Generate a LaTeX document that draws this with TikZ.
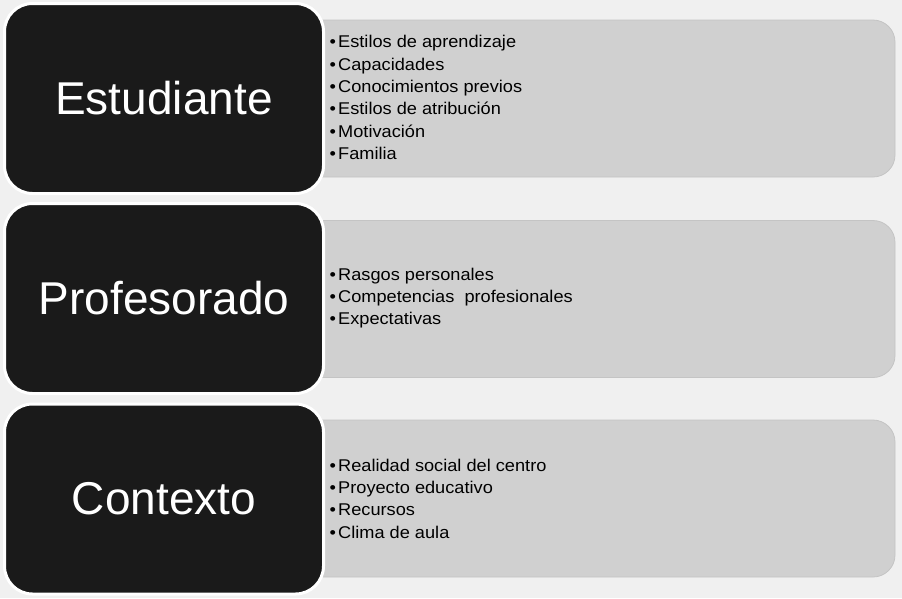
\documentclass[tikz,border=0pt]{standalone}
\usepackage{fontspec}
\setmainfont{Liberation Sans}
\newfontfamily\listfont[FakeStretch=1.07]{Liberation Sans}
\definecolor{bgc}{HTML}{F0F0F0}
\definecolor{grayfill}{HTML}{D0D0D0}
\definecolor{grayline}{HTML}{C4C4C4}
\definecolor{blackfill}{HTML}{1A1A1A}
\newcommand{\itm}[1]{\makebox[8.5pt][l]{•}#1}
\begin{document}
\begin{tikzpicture}[x=1pt,y=-1pt,
  headbox/.style={draw=white,line width=3pt,fill=blackfill,rounded corners=28pt,
    minimum width=319pt,minimum height=190pt,inner sep=0pt,text=white,
    font=\fontsize{46}{50}\selectfont},
  listbox/.style={draw=grayline,line width=0.8pt,fill=grayfill,rounded corners=22pt,
    minimum width=595pt,minimum height=157pt,inner sep=0pt},
  listtext/.style={anchor=west,align=left,inner sep=0pt,text=black,
    font=\listfont\fontsize{17}{22.3}\selectfont}]
\fill[bgc] (0,0) rectangle (902,598);
\useasboundingbox (0,0) rectangle (902,598);
% gray list boxes
\node[listbox] (g1) at (597.5,98.5) {};
\node[listbox] (g2) at (597.5,299) {};
\node[listbox] (g3) at (597.5,498.5) {};
% black heading boxes
\node[headbox] (h1) at (164,98.5) {Estudiante};
\node[headbox] (h2) at (164,298.5) {Profesorado};
\node[headbox] (h3) at (164,499) {Contexto};
% lists
\node[listtext] (t1) at (329.5,97.5) {\itm{Estilos de aprendizaje}\\\itm{Capacidades}\\\itm{Conocimientos previos}\\\itm{Estilos de atribución}\\\itm{Motivación}\\\itm{Familia}};
\node[listtext] (t2) at (329.5,298) {\itm{Rasgos personales}\\\itm{Competencias\ \ profesionales}\\\itm{Expectativas}};
\node[listtext] (t3) at (329.5,498.5) {\itm{Realidad social del centro}\\\itm{Proyecto educativo}\\\itm{Recursos}\\\itm{Clima de aula}};
\end{tikzpicture}
\end{document}
